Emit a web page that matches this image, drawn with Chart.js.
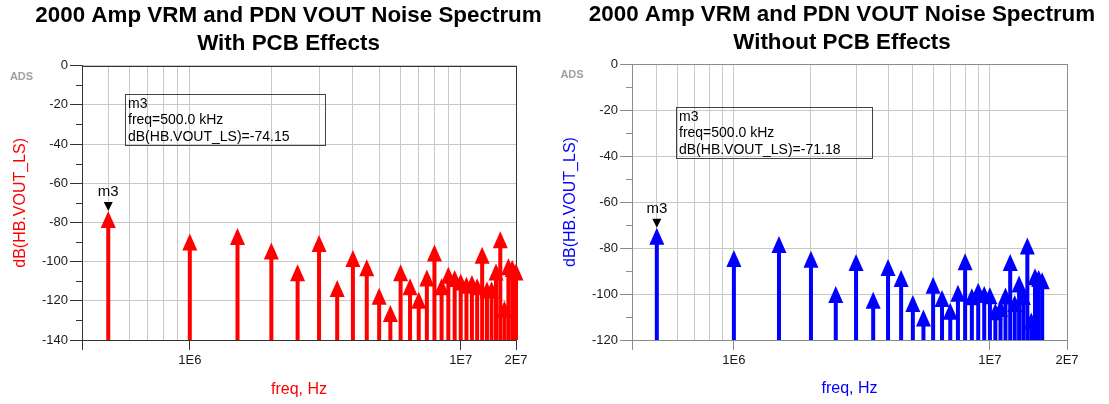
<!DOCTYPE html>
<html>
<head>
<meta charset="utf-8">
<script src="https://cdn.jsdelivr.net/npm/chart.js@4/dist/chart.umd.min.js"></script>
<style>
  html, body { margin: 0; padding: 0; background: #fff; }
  #wrap { position: relative; width: 1109px; height: 404px; }
  .panel { position: absolute; top: 0; height: 404px; }
  #left { left: 0; width: 555px; }
  #right { left: 555px; width: 554px; }
</style>
</head>
<body>
<div id="wrap">
  <div class="panel" id="left"><canvas id="chartA"></canvas></div>
  <div class="panel" id="right"><canvas id="chartB"></canvas></div>
</div>
<script>
// harmonics of the 500 kHz switching frequency, in MHz
const freqMHz = [0.5, 1, 1.5, 2, 2.5, 3, 3.5, 4, 4.5, 5, 5.5, 6, 6.5, 7, 7.5, 8,
                 8.5, 9, 9.5, 10, 10.5, 11, 11.5, 12, 12.5, 13, 13.5, 14, 14.5, 15, 15.5, 16];

// dB(HB.VOUT_LS)
const withPcbDb = [-74.15, -85.6, -82.8, -90.3, -101.4, -86.4, -109.4, -94.1, -98.8, -113.3, -122.2, -101.4,
                   -108.5, -115.4, -104, -91.2, -108.5, -102.6, -104.3, -106, -107.7, -106.8, -108.5, -92.4,
                   -110.2, -110, -100.9, -84.5, -120, -98.3, -99.2, -101];
const withoutPcbDb = [-71.18, -80.9, -74.8, -81.2, -96.5, -82.6, -99, -84.8, -89.6, -100.4, -106.7, -92.5,
                      -98.3, -103.8, -96, -82.3, -97.5, -95.1, -96.5, -97.1, -104, -102.6, -97.2, -82.6,
                      -100.4, -92, -97.4, -75.4, -108, -88.8, -89.6, -90.5];

const titleLine1 = '2000 Amp VRM and PDN VOUT Noise Spectrum';
const subWith = 'With PCB Effects';
const subWithout = 'Without PCB Effects';
const yTitle = 'dB(HB.VOUT_LS)';
const xTitle = 'freq, Hz';
const markerName = 'm3';

// x axis: log grid at every integer multiple of each decade
const xGrid = [4e5, 5e5, 6e5, 7e5, 8e5, 9e5, 1e6, 2e6, 3e6, 4e6, 5e6, 6e6, 7e6, 8e6, 9e6, 1e7];
const xTicksA = [1e6, 1e7, 1.6e7];
const xTicksB = [1e6, 1e7, 2e7];
const xTickLabels = ['1E6', '1E7', '2E7'];

const family = '"Liberation Sans", Arial, sans-serif';
Chart.defaults.font.family = family;
Chart.defaults.color = '#1a1a1a';

const clear = 'rgba(0,0,0,0)';
const gridGray = '#c8c8c8';

const stemPlugin = {
  id: 'stems',
  afterDatasetsDraw(chart, args, opts) {
    const ctx = chart.ctx;
    const ys = chart.scales.y;
    const base = ys.getPixelForValue(ys.min);
    const meta = chart.getDatasetMeta(0);
    ctx.save();
    ctx.fillStyle = opts.color;
    meta.data.forEach(pt => {
      const x = pt.x, y = pt.y;
      ctx.fillRect(x - 2, y + 8, 4, base - y - 8);
      ctx.beginPath();
      ctx.moveTo(x, y);
      ctx.lineTo(x + 7.5, y + 17);
      ctx.lineTo(x - 7.5, y + 17);
      ctx.closePath();
      ctx.fill();
    });
    ctx.restore();
  }
};

const framePlugin = {
  id: 'frame',
  beforeDatasetsDraw(chart, args, opts) {
    const ctx = chart.ctx;
    const a = chart.chartArea;
    const ys = chart.scales.y;
    ctx.save();
    ctx.strokeStyle = opts.color;
    ctx.lineWidth = 1;
    ctx.strokeRect(Math.round(a.left) + 0.5, Math.round(a.top) + 0.5,
                   Math.round(a.right - a.left), Math.round(a.bottom - a.top));
    // minor y ticks
    ctx.beginPath();
    ys.ticks.forEach(t => {
      if (t.value % 20 !== 0) {
        const y = Math.round(ys.getPixelForValue(t.value)) + 0.5;
        ctx.moveTo(a.left - 6, y);
        ctx.lineTo(a.left, y);
      }
    });
    ctx.stroke();
    ctx.restore();
  },
  afterDraw(chart, args, opts) {
    const ctx = chart.ctx;
    const meta = chart.getDatasetMeta(0);
    const pt = meta.data[0];
    const vals = chart.data.datasets[0].data;
    ctx.save();
    // ADS tag
    ctx.fillStyle = '#a0a0a0';
    ctx.font = 'bold 11px ' + family;
    ctx.textAlign = 'center';
    ctx.textBaseline = 'middle';
    ctx.fillText('ADS', opts.ads[0], opts.ads[1]);
    // marker triangle and name
    ctx.fillStyle = '#000';
    ctx.beginPath();
    ctx.moveTo(pt.x, pt.y);
    ctx.lineTo(pt.x + 4.5, pt.y - 9);
    ctx.lineTo(pt.x - 4.5, pt.y - 9);
    ctx.closePath();
    ctx.fill();
    ctx.font = '15px ' + family;
    ctx.fillText(markerName, pt.x, pt.y - 19);
    // marker readout box
    const b = opts.box;
    ctx.strokeStyle = '#444';
    ctx.lineWidth = 1;
    ctx.strokeRect(b[0] + 0.5, b[1] + 0.5, b[2], b[3]);
    ctx.font = '14px ' + family;
    ctx.textAlign = 'left';
    const f = vals[0].x / 1000;
    const lines = [markerName, 'freq=' + f.toFixed(1) + ' kHz', yTitle + '=' + vals[0].y.toFixed(2)];
    lines.forEach((s, i) => ctx.fillText(s, b[0] + 3, b[1] + 10 + i * 16.5));
    ctx.restore();
  }
};

function makeChart(id, values, sub, cfg) {
  const data = freqMHz.map((f, i) => ({ x: f * 1e6, y: values[i] }));
  const xt = cfg.xTicks;
  return new Chart(document.getElementById(id), {
    type: 'scatter',
    data: { datasets: [{ data, pointRadius: 0, showLine: false }] },
    options: {
      responsive: true,
      maintainAspectRatio: false,
      animation: false,
      events: [],
      // left padding shifts the centred title; the right gap comes from the x axis padding
      layout: { padding: { left: cfg.padLeft, right: 0, top: 0, bottom: 0 } },
      plugins: {
        legend: { display: false },
        tooltip: { enabled: false },
        title: {
          display: true,
          text: [titleLine1, sub],
          color: '#000',
          font: { size: 22.4, weight: 'bold', lineHeight: 1.25 },
          padding: cfg.titlePad
        },
        stems: { color: cfg.color },
        frame: { color: cfg.frame, ads: cfg.ads, box: cfg.box }
      },
      scales: {
        x: {
          type: 'logarithmic',
          min: 4e5,
          max: xt[2],
          bounds: 'data',
          afterBuildTicks: s => { s.ticks = xGrid.concat([xt[2]]).map(v => ({ value: v })); },
          afterFit: s => { s.height = 64; s.paddingRight = cfg.gapRight; },
          ticks: {
            autoSkip: false,
            maxRotation: 0,
            padding: 3,
            font: { size: 13 },
            callback: v => { const i = xt.indexOf(v); return i >= 0 ? xTickLabels[i] : ''; }
          },
          grid: {
            color: gridGray,
            tickLength: 10,
            tickColor: c => (xt.indexOf(c.tick.value) >= 0 || c.tick.value === 4e5) ? cfg.frame : clear
          },
          border: { color: cfg.frame },
          title: { display: true, text: xTitle, color: cfg.color, font: { size: 16 }, padding: { top: 4, bottom: cfg.xTitlePad } }
        },
        y: {
          min: cfg.yMin,
          max: 0,
          afterFit: s => { s.width = cfg.yWidth; },
          ticks: {
            stepSize: 10,
            padding: 2,
            font: { size: 13 },
            callback: v => (v % 20 === 0 ? String(v) : '')
          },
          grid: {
            tickLength: 12,
            color: c => (c.tick && c.tick.value % 20 === 0) ? gridGray : clear,
            tickColor: c => (c.tick && c.tick.value % 20 === 0) ? cfg.frame : clear
          },
          border: { color: cfg.frame },
          title: { display: true, text: yTitle, color: cfg.color, font: { size: 16 }, padding: { top: cfg.yTitlePad, bottom: 0 } }
        }
      }
    },
    plugins: [framePlugin, stemPlugin]
  });
}

makeChart('chartA', withPcbDb, subWith, {
  color: '#ff0000', frame: '#333333', yMin: -140, xTicks: xTicksA,
  padLeft: 22, gapRight: 39, yWidth: 60, titlePad: { top: 1.5, bottom: 8.2 },
  yTitlePad: -10.6, xTitlePad: 4.4, ads: [21.5, 77], box: [125, 94, 200, 51]
});
makeChart('chartB', withoutPcbDb, subWithout, {
  color: '#0000ff', frame: '#8c8c8c', yMin: -120, xTicks: xTicksB,
  padLeft: 20, gapRight: 42, yWidth: 57, titlePad: { top: 1, bottom: 7 },
  yTitlePad: -14.1, xTitlePad: 5.9, ads: [17, 75], box: [121, 107, 196, 51]
});
</script>
</body>
</html>
